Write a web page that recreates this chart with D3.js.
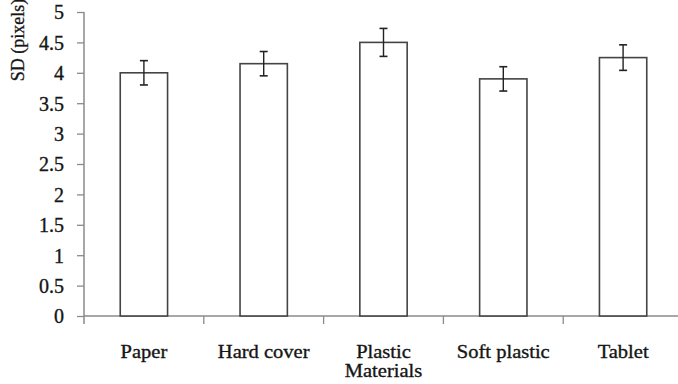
<!DOCTYPE html>
<html>
<head>
<meta charset="utf-8">
<script src="https://cdn.jsdelivr.net/npm/d3@7/dist/d3.min.js"></script>
<style>
  html, body { margin: 0; padding: 0; background: #fff; }
  svg { display: block; }
</style>
</head>
<body>
<svg id="chart" width="678" height="384"></svg>
<script>
// Surface conditions and their mean standard deviation (pixels) with error margins
const categories = ["Paper", "Hard cover", "Plastic\nMaterials", "Soft plastic", "Tablet"];
const sdValues = [4.0, 4.15, 4.5, 3.9, 4.25];
const sdErrors = [0.2, 0.2, 0.23, 0.2, 0.21];
const yTicks = [0, 0.5, 1, 1.5, 2, 2.5, 3, 3.5, 4, 4.5, 5];

const serif = '"Liberation Serif", "DejaVu Serif", "Times New Roman", serif';
const textColor = "#151515";

const svg = d3.select("#chart");
const plotLeft = 84, plotRight = 683, plotTop = 12, plotBottom = 316;

const x = d3.scaleBand()
  .domain(categories)
  .range([plotLeft, plotRight])
  .paddingInner(0.605)
  .paddingOuter(0.3025);

const y = d3.scaleLinear().domain([0, 5]).range([plotBottom, plotTop]);

const axisColor = "#8a8a8a";

// Y axis with outward ticks
const yAxis = svg.append("g")
  .attr("transform", `translate(${plotLeft},0)`)
  .call(d3.axisLeft(y).tickValues(yTicks).tickSize(7).tickPadding(13)
    .tickFormat(d3.format("")));
yAxis.select(".domain").remove();
yAxis.selectAll(".tick line").attr("stroke", axisColor).attr("stroke-width", 1.3);
yAxis.selectAll(".tick text")
  .style("font-family", serif)
  .style("font-size", "20px")
  .style("fill", textColor)
  .style("stroke", textColor)
  .style("stroke-width", "0.35px")
  .attr("dy", "0.34em");
yAxis.append("line")
  .attr("x1", 0).attr("x2", 0)
  .attr("y1", y(5)).attr("y2", plotBottom + 8)
  .attr("stroke", axisColor).attr("stroke-width", 1.5);

// X axis line with ticks at category boundaries
const step = x.step();
const boundaries = d3.range(categories.length + 1).map(i => plotLeft + i * step);
svg.append("line")
  .attr("x1", plotLeft).attr("x2", plotRight)
  .attr("y1", plotBottom).attr("y2", plotBottom)
  .attr("stroke", axisColor).attr("stroke-width", 1.5);
svg.selectAll(".xtick")
  .data(boundaries.slice(1))
  .join("line")
  .attr("class", "xtick")
  .attr("x1", d => d).attr("x2", d => d)
  .attr("y1", plotBottom).attr("y2", plotBottom + 8)
  .attr("stroke", axisColor).attr("stroke-width", 1.3);

// Bars
svg.selectAll(".bar")
  .data(categories)
  .join("rect")
  .attr("class", "bar")
  .attr("x", d => x(d))
  .attr("width", x.bandwidth())
  .attr("y", (d, i) => y(sdValues[i]))
  .attr("height", (d, i) => plotBottom - y(sdValues[i]))
  .attr("fill", "#fff")
  .attr("stroke", "#444")
  .attr("stroke-width", 1.6);

// Error bars
const eb = svg.selectAll(".err")
  .data(categories)
  .join("g")
  .attr("class", "err")
  .attr("transform", d => `translate(${x(d) + x.bandwidth() / 2},0)`);
eb.append("line")
  .attr("y1", (d, i) => y(sdValues[i] + sdErrors[i]))
  .attr("y2", (d, i) => y(sdValues[i] - sdErrors[i]))
  .attr("stroke", "#222").attr("stroke-width", 1.4);
eb.append("line")
  .attr("x1", -4).attr("x2", 4)
  .attr("y1", (d, i) => y(sdValues[i] + sdErrors[i]))
  .attr("y2", (d, i) => y(sdValues[i] + sdErrors[i]))
  .attr("stroke", "#222").attr("stroke-width", 1.6);
eb.append("line")
  .attr("x1", -4).attr("x2", 4)
  .attr("y1", (d, i) => y(sdValues[i] - sdErrors[i]))
  .attr("y2", (d, i) => y(sdValues[i] - sdErrors[i]))
  .attr("stroke", "#222").attr("stroke-width", 1.6);

// Category labels (multi-line where needed)
const labels = svg.selectAll(".xlabel")
  .data(categories)
  .join("text")
  .attr("class", "xlabel")
  .attr("text-anchor", "middle")
  .style("font-family", serif)
  .style("font-size", "19px")
  .style("fill", textColor)
  .style("stroke", textColor)
  .style("stroke-width", "0.35px")
  .attr("transform", d => `translate(${x(d) + x.bandwidth() / 2},358) scale(1.08,1)`);
labels.each(function(d) {
  const lines = d.split("\n");
  d3.select(this).selectAll("tspan")
    .data(lines)
    .join("tspan")
    .attr("x", 0)
    .attr("y", (l, i) => i * 19.5)
    .text(l => l);
});

// Y axis title
svg.append("text")
  .attr("transform", "translate(24,40) rotate(-90)")
  .attr("text-anchor", "middle")
  .style("font-family", serif)
  .style("font-size", "18px")
  .style("fill", textColor)
  .style("stroke", textColor)
  .style("stroke-width", "0.3px")
  .text("SD (pixels)");
</script>
</body>
</html>
